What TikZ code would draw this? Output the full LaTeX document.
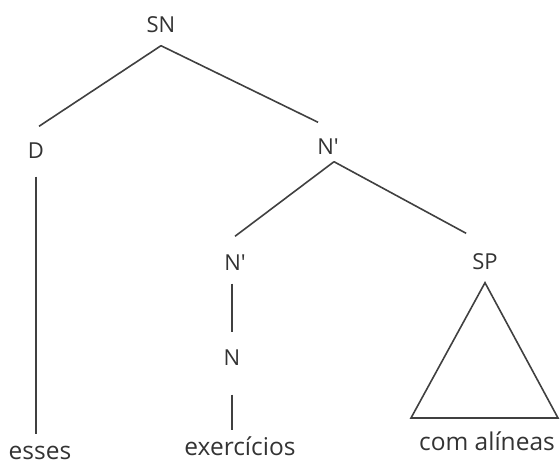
\documentclass[tikz,border=0pt]{standalone}
\usepackage{fontspec}
\setmainfont{Open Sans}

\begin{document}
\begin{tikzpicture}[x=1pt, y=-1pt,
  cat/.style={font=\fontsize{22}{24}\selectfont, text=black!80,
    text height=15pt, text depth=0pt, inner xsep=0pt, inner ysep=13pt},
  word/.style={font=\fontsize{24.5}{27}\selectfont, text=black!80, anchor=base,
    text height=17pt, text depth=5pt, inner xsep=0pt, inner ysep=8pt},
  branch/.style={draw=black!75, line width=1.6pt}]

  \useasboundingbox (0,0) rectangle (560,464);

  %% ===== categories =====
  \node[cat] (SN)    at (161,25)  {SN};
  \node[cat] (D)     at (36,151)  {D};
  \node[cat] (Nbar)  at (328,147) {N\textquotesingle};
  \node[cat] (Nbar2) at (235,263) {N\textquotesingle};
  \node[cat] (N)     at (232,358) {N};
  \node[cat] (SP)    at (485,262) {SP};

  %% ===== words =====
  \node[word] (esses)   at (40,459)  {esses};
  \node[word] (exerc)   at (240,455) {exercícios};
  \node[word] (alineas) at (487,450) {com alíneas};

  % triangle corners
  \coordinate (triL) at (411,418);
  \coordinate (triR) at (558,418);

  %% ===== branches =====
  \draw[branch] (SN.south) -- ([xshift=3pt,yshift=4pt]D.north);
  \draw[branch] (SN.south) -- ([xshift=1pt,yshift=4pt]Nbar.north west);
  \draw[branch] ([xshift=6pt,yshift=6pt]Nbar.south) -- ([yshift=6pt]Nbar2.north);
  \draw[branch] ([xshift=6pt,yshift=6pt]Nbar.south) -- ([xshift=-6pt,yshift=8pt]SP.north west);

  \draw[branch] ([yshift=-5pt]D.south) -- (D.south |- esses.north);
  \draw[branch] ([xshift=-3pt]Nbar2.south) -- ([yshift=5pt]N.north);
  \draw[branch] ([yshift=-16pt]N.south) -- (N.south |- exerc.north);

  % SP as a triangle
  \draw[branch, line join=miter] (SP.south) -- (triL) -- (triR) -- cycle;

\end{tikzpicture}
\end{document}
